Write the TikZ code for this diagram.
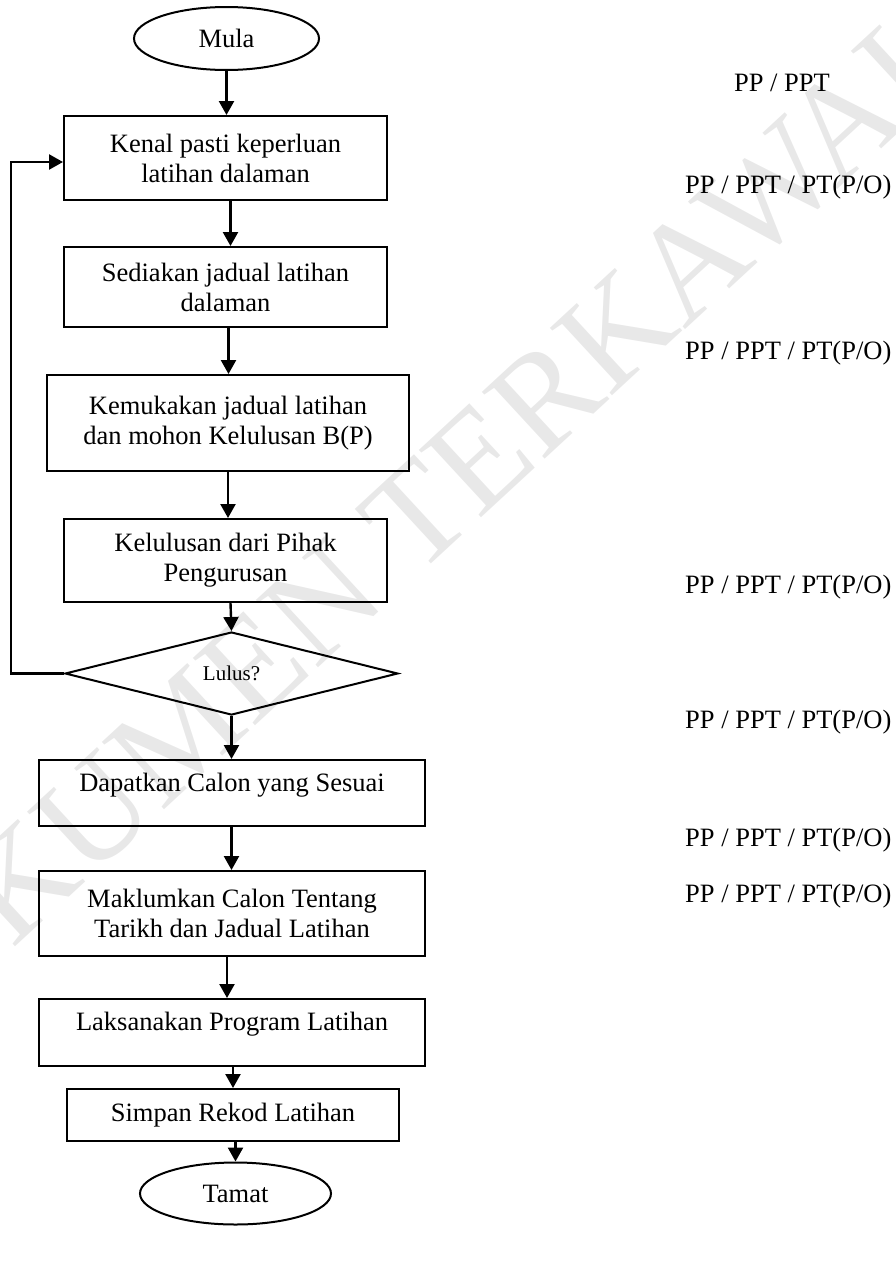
\documentclass[tikz,border=0pt]{standalone}
\usepackage{fontspec}
\setmainfont{Liberation Serif}
\usetikzlibrary{shapes.geometric, arrows.meta}

\tikzset{
  kotak/.style={draw, line width=2pt, align=center, inner sep=0pt,
    font=\fontsize{26.5}{30}\selectfont},
  bujur/.style={draw, ellipse, line width=2pt, inner sep=0pt,
    font=\fontsize{26.5}{30}\selectfont},
  anak/.style={-{Triangle[width=15pt,length=14pt]}, line width=2.4pt},
  pihak/.style={font=\fontsize{26.5}{30}\selectfont, inner sep=0pt}
}

\begin{document}
\begin{tikzpicture}[x=1pt,y=-1pt]
            \useasboundingbox (0,0) rectangle (895,1266);
            % tera air
            \node[rotate=42.7, text=black!9, font=\fontsize{140}{140}\selectfont] (tera) at (388,542) {DOKUMEN TERKAWAL};
            % carta alir
            \node[bujur, minimum width=185pt, minimum height=63pt] (mula) at (226.5,38.5) {Mula};
            \node[kotak, minimum width=323pt, minimum height=84pt] (kenal) at (225.5,158) {Kenal pasti keperluan\\latihan dalaman};
            \node[kotak, minimum width=323pt, minimum height=80pt] (sedia) at (225.5,287) {Sediakan jadual latihan\\dalaman};
            \node[kotak, minimum width=362pt, minimum height=96pt] (kemuka) at (228,423) {Kemukakan jadual latihan\\dan mohon Kelulusan B(P)};
            \node[kotak, minimum width=323pt, minimum height=83pt] (lulusan) at (225.5,560.5) {Kelulusan dari Pihak\\Pengurusan};
            \node[draw, diamond, line width=2pt, inner sep=0pt, minimum width=333pt, minimum height=83pt,
                  font=\fontsize{21}{24}\selectfont] (lulus) at (231.5,673.5) {Lulus?};
            \node[kotak, minimum width=386pt, minimum height=66pt, text depth=22pt] (calon) at (232,793) {Dapatkan Calon yang Sesuai};
            \node[kotak, minimum width=386pt, minimum height=85pt] (maklum) at (232,913.5) {Maklumkan Calon Tentang\\Tarikh dan Jadual Latihan};
            \node[kotak, minimum width=386pt, minimum height=67pt, text depth=22pt] (laksana) at (232,1032.5) {Laksanakan Program Latihan};
            \node[kotak, minimum width=332pt, minimum height=52pt] (simpan) at (233,1115) {Simpan Rekod Latihan};
            \node[bujur, minimum width=191pt, minimum height=62pt] (tamat) at (235.5,1193.5) {Tamat};

            \draw[anak] (mula.south) -- (mula.south |- kenal.north);
            \draw[anak] ([xshift=5pt]kenal.south) -- ([xshift=5pt]kenal.south |- sedia.north);
            \draw[anak] ([xshift=3pt]sedia.south) -- ([xshift=3pt]sedia.south |- kemuka.north);
            \draw[anak] (kemuka.south) -- (kemuka.south |- lulusan.north);
            \draw[anak] ([xshift=5pt]lulusan.south) -- (lulus.north);
            \draw[anak] (lulus.south) -- (lulus.south |- calon.north);
            \draw[anak] (lulus.south |- calon.south) -- (lulus.south |- maklum.north);
            \draw[anak] ([xshift=-5pt]maklum.south) -- ([xshift=-5pt]maklum.south |- laksana.north);
            \draw[anak] (simpan.north |- laksana.south) -- (simpan.north);
            \draw[anak] (tamat.north |- simpan.south) -- (tamat.north);
            \draw[anak] (lulus.west) -- ++(-53,0) |- ([yshift=-4pt]kenal.west); % tidak lulus

            % pegawai bertanggungjawab
            \node[pihak] (p1) at (782,83) {PP / PPT};
            \node[pihak, anchor=west] (p2) at (685,187) {PP / PPT / PT(P/O)};
            \node[pihak, anchor=west] (p3) at (685,353) {PP / PPT / PT(P/O)};
            \node[pihak, anchor=west] (p4) at (685,587) {PP / PPT / PT(P/O)};
            \node[pihak, anchor=west] (p5) at (685,722) {PP / PPT / PT(P/O)};
            \node[pihak, anchor=west] (p6) at (685,840) {PP / PPT / PT(P/O)};
            \node[pihak, anchor=west] (p7) at (685,896) {PP / PPT / PT(P/O)};
\end{tikzpicture}
\end{document}
